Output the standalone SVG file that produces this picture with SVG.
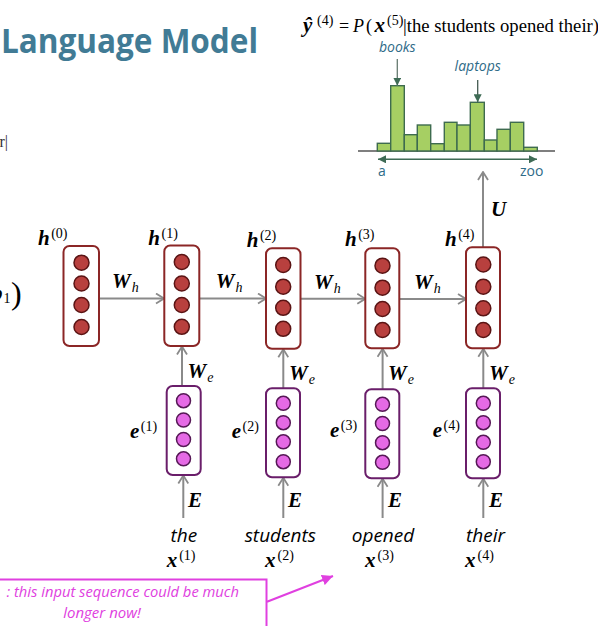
<svg xmlns="http://www.w3.org/2000/svg" width="598" height="626" viewBox="0 0 598 626">
<defs>
<style>
.m{font-family:"Liberation Serif",serif;font-weight:bold;font-style:italic;font-size:21px;fill:#000}
.sup{font-family:"Liberation Serif",serif;font-size:14px;font-weight:normal;font-style:normal}
.sub{font-family:"Liberation Serif",serif;font-style:italic;font-weight:normal;font-size:14px}
.rm{font-family:"Liberation Serif",serif;font-size:18px;fill:#000}
.hbox{fill:#fff;stroke:#8b2626;stroke-width:2}
.hc{fill:#b8403e;stroke:#5a1414;stroke-width:1.5}
.ebox{fill:#fff;stroke:#6a1e6a;stroke-width:2}
.ec{fill:#e56ae5;stroke:#561856;stroke-width:1.5}
.arr{stroke:#8a8a8a;stroke-width:2;fill:none;marker-end:url(#chev)}
.bar{fill:#a6cf63;stroke:#3e6b4f;stroke-width:1.4}
.lbl{font-family:"Open Sans","Liberation Sans",sans-serif;font-size:14px;fill:#2f6b88}
.word{font-family:"Open Sans","Liberation Sans",sans-serif;font-style:italic;font-size:19px;fill:#000}
.note{font-family:"Open Sans","Liberation Sans",sans-serif;font-style:italic;font-size:15px;fill:#e040e0}
</style>
<marker id="chev" viewBox="0 0 10 12" refX="9" refY="6" markerWidth="10" markerHeight="12" markerUnits="userSpaceOnUse" orient="auto">
<path d="M1,1 L9,6 L1,11" fill="none" stroke="#8a8a8a" stroke-width="1.8"/>
</marker>
<marker id="garr" viewBox="0 0 8 8" refX="8" refY="4" markerWidth="8" markerHeight="8" markerUnits="userSpaceOnUse" orient="auto-start-reverse">
<path d="M0,0 L8,4 L0,8 Z" fill="#3e6b55"/>
</marker>
<marker id="parr" viewBox="0 0 10 10" refX="10" refY="5" markerWidth="11" markerHeight="11" markerUnits="userSpaceOnUse" orient="auto">
<path d="M0,0 L10,5 L0,10 Z" fill="#e040e0"/>
</marker>
</defs>
<rect width="598" height="626" fill="#fff"/>

<g id="title">
<text x="1" y="53" font-family="'Open Sans','Liberation Sans',sans-serif" font-weight="bold" font-size="34" fill="#417b95" textLength="257" lengthAdjust="spacingAndGlyphs">Language Model</text>
</g>

<g id="fragments">
<text x="8" y="147" text-anchor="end" font-family="'Liberation Serif',serif" font-size="16" fill="#333">r|</text>
<text x="-8" y="300" class="m">b</text>
<text x="3.5" y="303" class="sup" font-size="12">1</text>
<text x="11" y="304" font-family="'Liberation Serif',serif" font-size="32">)</text>
</g>

<g id="formula">
<text x="303" y="32" class="m">ŷ</text>
<text x="317" y="25" class="sup">(4)</text>
<text x="339" y="32" class="rm" font-size="19">=</text>
<text x="353" y="32" class="rm" font-size="19" font-style="italic">P</text>
<text x="366" y="32" class="rm" font-size="19">(</text>
<text x="374.5" y="32" class="m">x</text>
<text x="387" y="25" class="sup">(5)</text>
<text x="403" y="32" class="rm" textLength="196" lengthAdjust="spacingAndGlyphs">|the students opened their)</text>
</g>

<g id="histogram">
<line x1="358" y1="151" x2="555" y2="151" stroke="#555" stroke-width="1.5"/>
<rect class="bar" x="377.3" y="143.3" width="13.4" height="7.7"/>
<rect class="bar" x="390.7" y="85.7" width="13.6" height="65.3"/>
<rect class="bar" x="404.3" y="134.7" width="13" height="16.3"/>
<rect class="bar" x="417.3" y="125" width="13.4" height="26"/>
<rect class="bar" x="430.7" y="143.7" width="13.6" height="7.3"/>
<rect class="bar" x="444.3" y="122.3" width="12.7" height="28.7"/>
<rect class="bar" x="457" y="125" width="13.3" height="26"/>
<rect class="bar" x="470.3" y="102.3" width="14" height="48.7"/>
<rect class="bar" x="484.3" y="140" width="12.7" height="11"/>
<rect class="bar" x="497" y="129.3" width="13.3" height="21.7"/>
<rect class="bar" x="510.3" y="122.3" width="13.4" height="28.7"/>
<rect class="bar" x="523.7" y="147.3" width="13.6" height="3.7"/>
<line x1="378" y1="159.3" x2="537" y2="159.3" stroke="#3e6b55" stroke-width="1.6" marker-start="url(#garr)" marker-end="url(#garr)"/>
<line x1="397.3" y1="59" x2="397.3" y2="85.7" stroke="#667a70" stroke-width="1.3" marker-end="url(#garr)"/>
<line x1="477.7" y1="80" x2="477.7" y2="102.3" stroke="#445a50" stroke-width="1.3" marker-end="url(#garr)"/>
<text x="397.3" y="52" class="lbl" font-style="italic" text-anchor="middle">books</text>
<text x="477.7" y="71" class="lbl" font-style="italic" text-anchor="middle">laptops</text>
<text x="382" y="176" class="lbl" text-anchor="middle">a</text>
<text x="531.7" y="176" class="lbl" text-anchor="middle">zoo</text>
</g>

<g id="connectors">
<line class="arr" x1="99" y1="298.5" x2="164" y2="298.5"/>
<line class="arr" x1="199.3" y1="298.5" x2="266" y2="298.5"/>
<line class="arr" x1="300.5" y1="298.8" x2="365.3" y2="298.8"/>
<line class="arr" x1="399.3" y1="299" x2="466" y2="299"/>
<line class="arr" x1="182" y1="386" x2="182" y2="346.5"/>
<line class="arr" x1="283.3" y1="388.3" x2="283.3" y2="349.3"/>
<line class="arr" x1="382.6" y1="389.3" x2="382.6" y2="348.8"/>
<line class="arr" x1="483.3" y1="388.3" x2="483.3" y2="348.8"/>
<line class="arr" x1="183.3" y1="518" x2="183.3" y2="475.5"/>
<line class="arr" x1="283.3" y1="518" x2="283.3" y2="477.8"/>
<line class="arr" x1="382.6" y1="518" x2="382.6" y2="478.8"/>
<line class="arr" x1="483.3" y1="518" x2="483.3" y2="478.8"/>
<line class="arr" x1="483" y1="247" x2="483" y2="172"/>
<line x1="267" y1="601.7" x2="333" y2="576" stroke="#e040e0" stroke-width="2" marker-end="url(#parr)"/>
</g>

<g id="connector-labels">
<text x="112" y="288" class="m">W<tspan class="sub" dx="1" dy="4">h</tspan></text>
<text x="215.7" y="288" class="m">W<tspan class="sub" dx="1" dy="4">h</tspan></text>
<text x="314" y="289" class="m">W<tspan class="sub" dx="1" dy="4">h</tspan></text>
<text x="414" y="289" class="m">W<tspan class="sub" dx="1" dy="4">h</tspan></text>
<text x="187.5" y="378" class="m">W<tspan class="sub" dx="1" dy="4">e</tspan></text>
<text x="289" y="380" class="m">W<tspan class="sub" dx="1" dy="4">e</tspan></text>
<text x="388" y="380" class="m">W<tspan class="sub" dx="1" dy="4">e</tspan></text>
<text x="489" y="380" class="m">W<tspan class="sub" dx="1" dy="4">e</tspan></text>
<text x="188" y="506.7" class="m">E</text>
<text x="288" y="507" class="m">E</text>
<text x="388" y="507" class="m">E</text>
<text x="489" y="507" class="m">E</text>
<text x="491" y="216" class="m">U</text>
</g>

<g id="h0">
<text x="38" y="245" class="m">h<tspan class="sup" dx="1.5" dy="-7">(0)</tspan></text>
<rect class="hbox" x="63.5" y="246" width="35.5" height="100" rx="6"/>
<circle class="hc" cx="81.5" cy="262.7" r="7.5"/><circle class="hc" cx="81.5" cy="283.5" r="7.5"/><circle class="hc" cx="81.5" cy="305" r="7.5"/><circle class="hc" cx="81.5" cy="327" r="7.5"/>
</g>
<g id="h1">
<text x="148.3" y="245" class="m">h<tspan class="sup" dx="1.5" dy="-7">(1)</tspan></text>
<rect class="hbox" x="164.3" y="245.5" width="35" height="100.5" rx="6"/>
<circle class="hc" cx="181.8" cy="262" r="7.5"/><circle class="hc" cx="181.8" cy="283.5" r="7.5"/><circle class="hc" cx="181.8" cy="305" r="7.5"/><circle class="hc" cx="181.8" cy="326.8" r="7.5"/>
</g>
<g id="h2">
<text x="246.7" y="247" class="m">h<tspan class="sup" dx="1.5" dy="-7">(2)</tspan></text>
<rect class="hbox" x="266" y="248.3" width="34.5" height="100.5" rx="6"/>
<circle class="hc" cx="283.2" cy="265" r="7.5"/><circle class="hc" cx="283.2" cy="286.7" r="7.5"/><circle class="hc" cx="283.2" cy="307.8" r="7.5"/><circle class="hc" cx="283.2" cy="328.8" r="7.5"/>
</g>
<g id="h3">
<text x="345" y="245.5" class="m">h<tspan class="sup" dx="1.5" dy="-7">(3)</tspan></text>
<rect class="hbox" x="365.3" y="248.3" width="34" height="100" rx="6"/>
<circle class="hc" cx="382.5" cy="265.7" r="7.5"/><circle class="hc" cx="382.5" cy="287.7" r="7.5"/><circle class="hc" cx="382.5" cy="309" r="7.5"/><circle class="hc" cx="382.5" cy="330" r="7.5"/>
</g>
<g id="h4">
<text x="445" y="245.5" class="m">h<tspan class="sup" dx="1.5" dy="-7">(4)</tspan></text>
<rect class="hbox" x="466" y="247.3" width="34" height="101" rx="6"/>
<circle class="hc" cx="483.3" cy="264.5" r="7.5"/><circle class="hc" cx="483.3" cy="286.7" r="7.5"/><circle class="hc" cx="483.3" cy="308.3" r="7.5"/><circle class="hc" cx="483.3" cy="330" r="7.5"/>
</g>

<g id="e1">
<text x="130" y="438.3" class="m">e<tspan class="sup" dx="1.5" dy="-7">(1)</tspan></text>
<rect class="ebox" x="166.7" y="386" width="34" height="89" rx="6"/>
<circle class="ec" cx="183.5" cy="400.7" r="7"/><circle class="ec" cx="183.5" cy="420" r="7"/><circle class="ec" cx="183.5" cy="439.5" r="7"/><circle class="ec" cx="183.5" cy="458.8" r="7"/>
</g>
<g id="e2">
<text x="231.7" y="438.3" class="m">e<tspan class="sup" dx="1.5" dy="-7">(2)</tspan></text>
<rect class="ebox" x="266" y="388.3" width="34" height="89" rx="6"/>
<circle class="ec" cx="283.3" cy="403.3" r="7"/><circle class="ec" cx="283.3" cy="422.7" r="7"/><circle class="ec" cx="283.3" cy="441.8" r="7"/><circle class="ec" cx="283.3" cy="461.7" r="7"/>
</g>
<g id="e3">
<text x="330" y="437" class="m">e<tspan class="sup" dx="1.5" dy="-7">(3)</tspan></text>
<rect class="ebox" x="365.3" y="389.3" width="34" height="89" rx="6"/>
<circle class="ec" cx="382.5" cy="404.3" r="7"/><circle class="ec" cx="382.5" cy="423.5" r="7"/><circle class="ec" cx="382.5" cy="442.7" r="7"/><circle class="ec" cx="382.5" cy="462.3" r="7"/>
</g>
<g id="e4">
<text x="432.7" y="437" class="m">e<tspan class="sup" dx="1.5" dy="-7">(4)</tspan></text>
<rect class="ebox" x="466" y="388.3" width="34" height="90" rx="6"/>
<circle class="ec" cx="483.3" cy="403.3" r="7"/><circle class="ec" cx="483.3" cy="422.7" r="7"/><circle class="ec" cx="483.3" cy="442.3" r="7"/><circle class="ec" cx="483.3" cy="461.7" r="7"/>
</g>

<g id="x1">
<text x="183.8" y="542" class="word" text-anchor="middle">the</text>
<text x="166.7" y="566.5" class="m">x<tspan class="sup" dx="2" dy="-7">(1)</tspan></text>
</g>
<g id="x2">
<text x="280.3" y="542" class="word" text-anchor="middle">students</text>
<text x="265" y="566.5" class="m">x<tspan class="sup" dx="2" dy="-7">(2)</tspan></text>
</g>
<g id="x3">
<text x="383" y="542" class="word" text-anchor="middle">opened</text>
<text x="365" y="567" class="m">x<tspan class="sup" dx="2" dy="-7">(3)</tspan></text>
</g>
<g id="x4">
<text x="485.5" y="542" class="word" text-anchor="middle">their</text>
<text x="465" y="567" class="m">x<tspan class="sup" dx="2" dy="-7">(4)</tspan></text>
</g>

<g id="note">
<rect x="-10" y="579.5" width="276.5" height="60" fill="#fff" stroke="#e040e0" stroke-width="2"/>
<text x="6.5" y="597.3" class="note" textLength="232.5" lengthAdjust="spacingAndGlyphs">: this input sequence could be much</text>
<text x="102" y="618.3" class="note" text-anchor="middle">longer now!</text>
</g>
</svg>
